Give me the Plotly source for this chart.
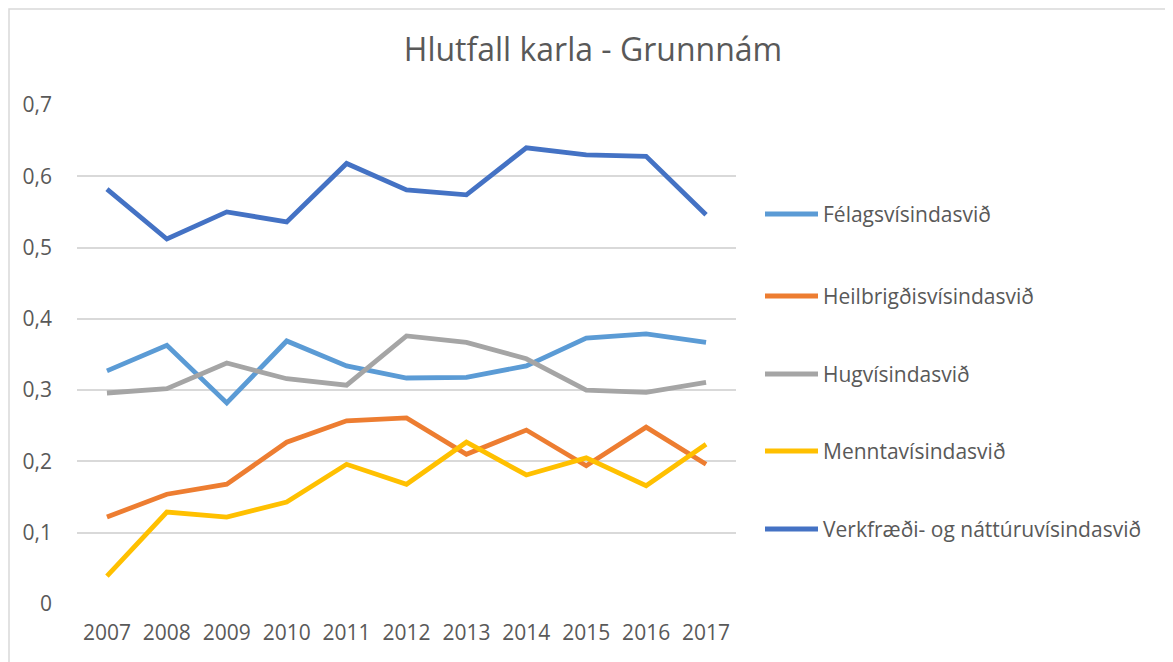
import plotly.graph_objects as go

years = ["2007", "2008", "2009", "2010", "2011", "2012", "2013", "2014", "2015", "2016", "2017"]
series_names = ["Félagsvísindasvið", "Heilbrigðisvísindasvið", "Hugvísindasvið",
                "Menntavísindasvið", "Verkfræði- og náttúruvísindasvið"]
felags = [0.327, 0.363, 0.282, 0.369, 0.334, 0.317, 0.318, 0.334, 0.373, 0.379, 0.367]
heilbr = [0.122, 0.154, 0.168, 0.227, 0.257, 0.261, 0.210, 0.244, 0.194, 0.248, 0.196]
hugvis = [0.296, 0.302, 0.338, 0.316, 0.307, 0.376, 0.367, 0.344, 0.300, 0.297, 0.311]
mennta = [0.039, 0.129, 0.122, 0.143, 0.196, 0.168, 0.227, 0.181, 0.205, 0.166, 0.224]
verkfr = [0.582, 0.512, 0.550, 0.536, 0.618, 0.581, 0.574, 0.640, 0.630, 0.628, 0.546]
colors = ["#5B9BD5", "#ED7D31", "#A5A5A5", "#FFC000", "#4472C4"]
y_ticks = [0, 0.1, 0.2, 0.3, 0.4, 0.5, 0.6, 0.7]
y_tick_labels = ["0", "0,1", "0,2", "0,3", "0,4", "0,5", "0,6", "0,7"]

all_series = [felags, heilbr, hugvis, mennta, verkfr]
FONT = "Open Sans, Liberation Sans, sans-serif"
TXT = "#595959"

# page body has an 8px margin: figure is offset by OFF px
OFF = 8
W, H = 1173 - OFF, 662 - OFF
# plot area in screen pixels: x 77..736, y 105..604
ml, mr, mt, mb = 77 - OFF, 1173 - 736, 105 - OFF, 662 - 604
pw = W - ml - mr
ph = H - mt - mb

def px_x(p):
    return (p - OFF - ml) / pw

def px_y(p):
    return (H - mb - (p - OFF)) / ph

fig = go.Figure()
for name, vals, col in zip(series_names, all_series, colors):
    fig.add_trace(go.Scatter(x=years, y=vals, name=name, mode="lines",
                             line=dict(color=col, width=4.8), showlegend=False))

shapes = []
annotations = []
# outer chart border (left and top visible)
shapes.append(dict(type="rect", xref="paper", yref="paper",
                   x0=px_x(9), x1=px_x(1200), y0=px_y(720), y1=px_y(9),
                   line=dict(color="#D9D9D9", width=1.5), fillcolor="rgba(0,0,0,0)", layer="below"))
# manual legend
leg_y = [214, 296, 374, 451, 529]
for name, col, yy in zip(series_names, colors, leg_y):
    shapes.append(dict(type="line", xref="paper", yref="paper",
                       x0=px_x(765), x1=px_x(818), y0=px_y(yy), y1=px_y(yy),
                       line=dict(color=col, width=4.8)))
    annotations.append(dict(text=name, xref="paper", yref="paper", x=px_x(821), y=px_y(yy),
                            xanchor="left", yanchor="middle", showarrow=False,
                            font=dict(family=FONT, size=21, color=TXT)))

fig.update_layout(
    width=W, height=H,
    margin=dict(l=ml, r=mr, t=mt, b=mb),
    paper_bgcolor="white", plot_bgcolor="white",
    title=dict(text="Hlutfall karla - Grunnnám", x=(593 - OFF) / W, xanchor="center",
               y=1 - (50 - OFF) / H, yanchor="middle",
               font=dict(family=FONT, size=32, color=TXT)),
    xaxis=dict(type="category", showgrid=False, zeroline=False, showline=False,
               ticks="", tickfont=dict(family=FONT, size=21, color=TXT),
               ticklabelstandoff=14, range=[-0.5, 10.5]),
    yaxis=dict(range=[0, 0.7], tickvals=y_ticks, ticktext=y_tick_labels,
               showgrid=True, gridcolor="#D9D9D9", gridwidth=1.5, zeroline=False,
               showline=False, ticks="", ticklabelstandoff=24,
               tickfont=dict(family=FONT, size=21, color=TXT)),
    shapes=shapes, annotations=annotations,
)

fig.write_html("out.html")
